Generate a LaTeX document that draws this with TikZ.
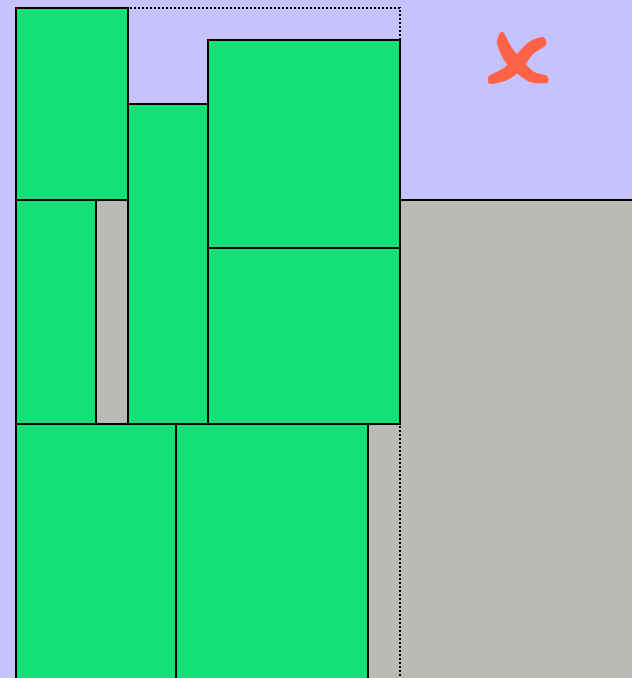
\documentclass[tikz,border=0pt]{standalone}
\definecolor{lav}{HTML}{C6C2FE}
\definecolor{grn}{HTML}{14E276}
\definecolor{gry}{HTML}{BABBB4}
\definecolor{tom}{HTML}{FF6347}
\begin{document}
\begin{tikzpicture}[x=1pt,y=-1pt,
  box/.style={fill=grn,draw=black,line width=1.8pt},
  back/.style={fill=gry,draw=black,line width=1.8pt}]
\fill[lav] (0,0) rectangle (632,678);
\useasboundingbox (0,0) rectangle (632,678);
\draw[back] (16,200) rectangle (634,680);
\draw[box] (16,8) rectangle (128,200);
\draw[box] (16,200) rectangle (96,424);
\draw[box] (128,104) rectangle (208,424);
\draw[box] (208,40) rectangle (400,248);
\draw[box] (208,248) rectangle (400,424);
\draw[box] (16,424) rectangle (176,680);
\draw[box] (176,424) rectangle (368,680);
\draw[dash pattern=on 2pt off 2pt,line width=1.6pt] (16,8) rectangle (400,680);
% cross mark
\fill[tom] plot[smooth cycle,tension=0.5] coordinates {(500,33) (497,43) (504,60) (514,71) (530,82) (547,83) (547,76) (534,72) (523,61) (512,48) (506,37) (503,32)};
\fill[tom] plot[smooth cycle,tension=0.5] coordinates {(543,37) (529,42) (517,54) (504,68) (489,76) (490,84) (507,80) (521,70) (533,54) (546,45)};
\end{tikzpicture}
\end{document}
